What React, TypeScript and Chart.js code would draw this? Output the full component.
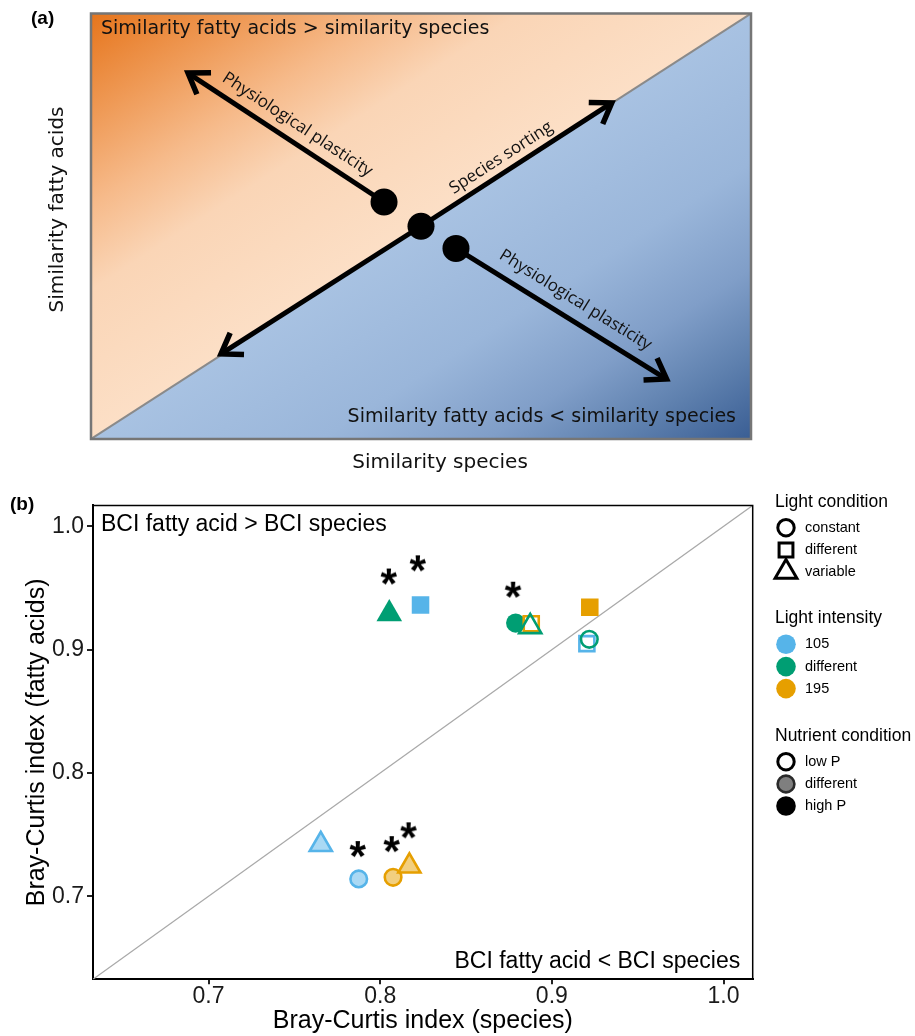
import React, { useEffect, useRef } from "react";
import { Chart, registerables } from "chart.js";
import { drawPoint } from "chart.js/helpers";
Chart.register(...registerables);

// ---------------- Panel (a): conceptual diagram, unit-square coordinates ----------------
const conceptDotX = [0.444, 0.5, 0.553];
const conceptDotY = [0.557, 0.5, 0.448];
const arrowFromX = [0.444, 0.5, 0.5, 0.553];
const arrowFromY = [0.557, 0.5, 0.5, 0.448];
const arrowToX = [0.147, 0.789, 0.197, 0.872];
const arrowToY = [0.86, 0.79, 0.2, 0.141];
const arrowLabels = ["Physiological plasticity", "Species sorting", "", "Physiological plasticity"];
const conceptDiagonal = [0, 1];

// ---------------- Panel (b): Bray-Curtis indices ----------------
const speciesBCI = [0.8053, 0.8235, 0.8789, 0.888, 0.8874, 0.9221, 0.9204, 0.9218, 0.7654, 0.7875, 0.8075, 0.817];
const fattyAcidBCI = [0.929, 0.9363, 0.9216, 0.921, 0.9186, 0.9344, 0.9049, 0.9084, 0.7419, 0.7141, 0.7154, 0.7245];
const lightCondition = ["variable", "different", "constant", "different", "variable", "different", "different", "constant", "variable", "constant", "constant", "variable"];
const lightIntensity = ["different", "105", "different", "195", "different", "195", "105", "different", "105", "105", "195", "195"];
const nutrientCondition = ["high P", "high P", "high P", "low P", "low P", "high P", "low P", "low P", "different", "different", "different", "different"];
const significantX = [0.8051, 0.822, 0.8775, 0.787, 0.8068, 0.8166];
const significantY = [0.9593, 0.97, 0.9486, 0.7383, 0.7423, 0.7535];
const xTicks = [0.7, 0.8, 0.9, 1.0];
const yTicks = [0.7, 0.8, 0.9, 1.0];
const axisRange = [0.6327, 1.017];
const legendLightCondition = ["constant", "different", "variable"];
const legendLightIntensity = ["105", "different", "195"];
const legendNutrient = ["low P", "different", "high P"];

const intensityColor: Record<string, string> = { "105": "#56B4E9", different: "#009E73", "195": "#E69F00" };
const shapeStyle: Record<string, string> = { constant: "circle", different: "rect", variable: "triangle" };

function rgba(hex: string, a: number) {
  const n = parseInt(hex.slice(1), 16);
  return `rgba(${(n >> 16) & 255},${(n >> 8) & 255},${n & 255},${a})`;
}

const SANS = '"Liberation Sans", Arial, sans-serif';
const DEJAVU = '"DejaVu Sans", sans-serif';
const OPEN = '"Open Sans", sans-serif';

function makeAsterisk(): HTMLCanvasElement {
  const c = document.createElement("canvas");
  c.width = 28;
  c.height = 28;
  const g = c.getContext("2d")!;
  g.font = `bold 40px ${SANS}`;
  let m = g.measureText("*");
  const w0 = m.actualBoundingBoxLeft + m.actualBoundingBoxRight;
  const size = w0 > 0 ? (40 * 17) / w0 : 46;
  g.font = `bold ${size}px ${SANS}`;
  m = g.measureText("*");
  g.fillStyle = "#000";
  g.textAlign = "left";
  g.textBaseline = "alphabetic";
  const x = 14 - (m.actualBoundingBoxRight - m.actualBoundingBoxLeft) / 2;
  const y = 14 + (m.actualBoundingBoxAscent - m.actualBoundingBoxDescent) / 2;
  g.fillText("*", x, y);
  return c;
}

function ConceptPanel() {
  const ref = useRef<HTMLCanvasElement>(null);
  useEffect(() => {
    if (!ref.current) return;
    const arrowDatasets = arrowFromX.map((_, i) => ({
      type: "line" as const,
      data: [
        { x: arrowFromX[i], y: arrowFromY[i] },
        { x: arrowToX[i], y: arrowToY[i] },
      ],
      borderColor: "#000",
      borderWidth: 5,
      borderCapStyle: "butt" as const,
      pointRadius: 0,
      showLine: true,
      order: 1,
    }));
    const plugin = {
      id: "concept",
      beforeDatasetsDraw(chart: any) {
        const { ctx, chartArea } = chart;
        const { left, top, right, bottom } = chartArea;
        const ux = right - left;
        const uy = top - bottom;
        const len = Math.hypot(ux, uy);
        const u = [ux / len, uy / len];
        const foot = (cx: number, cy: number) => {
          const t = (cx - left) * u[0] + (cy - bottom) * u[1];
          return [left + t * u[0], bottom + t * u[1]];
        };
        ctx.save();
        ctx.beginPath();
        ctx.moveTo(left, bottom + 1);
        ctx.lineTo(left, top);
        ctx.lineTo(right + 1, top);
        ctx.closePath();
        const f1 = foot(left, top);
        const g1 = ctx.createLinearGradient(f1[0], f1[1], left, top);
        g1.addColorStop(0, "rgb(252,223,198)");
        g1.addColorStop(0.35, "rgb(250,213,182)");
        g1.addColorStop(0.55, "rgb(246,186,138)");
        g1.addColorStop(0.75, "rgb(239,155,88)");
        g1.addColorStop(1, "rgb(230,117,28)");
        ctx.fillStyle = g1;
        ctx.fill();
        ctx.beginPath();
        ctx.moveTo(left, bottom);
        ctx.lineTo(right, top);
        ctx.lineTo(right, bottom);
        ctx.closePath();
        const f2 = foot(right, bottom);
        const g2 = ctx.createLinearGradient(f2[0], f2[1], right, bottom);
        g2.addColorStop(0, "rgb(168,194,226)");
        g2.addColorStop(0.35, "rgb(154,182,218)");
        g2.addColorStop(0.6, "rgb(128,158,200)");
        g2.addColorStop(0.8, "rgb(94,128,174)");
        g2.addColorStop(1, "rgb(58,94,148)");
        ctx.fillStyle = g2;
        ctx.fill();
        ctx.restore();
      },
      afterDatasetsDraw(chart: any) {
        const { ctx, chartArea } = chart;
        ctx.save();
        arrowFromX.forEach((_, i) => {
          const meta = chart.getDatasetMeta(i + 2);
          const p0 = meta.data[0];
          const p1 = meta.data[1];
          const dx = p1.x - p0.x;
          const dy = p1.y - p0.y;
          const L = Math.hypot(dx, dy);
          const d = [dx / L, dy / L];
          const back = Math.atan2(-d[1], -d[0]);
          const a = (34 * Math.PI) / 180;
          const arm = 23;
          ctx.strokeStyle = "#000";
          ctx.lineWidth = 5.5;
          ctx.lineJoin = "miter";
          ctx.lineCap = "butt";
          ctx.beginPath();
          ctx.moveTo(p1.x + arm * Math.cos(back + a), p1.y + arm * Math.sin(back + a));
          ctx.lineTo(p1.x, p1.y);
          ctx.lineTo(p1.x + arm * Math.cos(back - a), p1.y + arm * Math.sin(back - a));
          ctx.stroke();
          const label = arrowLabels[i];
          if (label) {
            const frac = [0.49, 0.46, 0.5, 0.52][i];
            const off = [17, 14, 0, 19][i];
            let n = [d[1], -d[0]];
            if (n[1] > 0) n = [-n[0], -n[1]];
            const cx = p0.x + dx * frac + n[0] * off;
            const cy = p0.y + dy * frac + n[1] * off;
            let ang = Math.atan2(dy, dx);
            if (ang > Math.PI / 2) ang -= Math.PI;
            if (ang < -Math.PI / 2) ang += Math.PI;
            ctx.save();
            ctx.translate(cx, cy);
            ctx.rotate(ang);
            ctx.font = `17px ${OPEN}`;
            ctx.fillStyle = "#111";
            ctx.textAlign = "center";
            ctx.textBaseline = "middle";
            ctx.fillText(label, 0, 0);
            ctx.restore();
          }
        });
        ctx.strokeStyle = "#767676";
        ctx.lineWidth = 2.5;
        ctx.strokeRect(chartArea.left, chartArea.top, chartArea.right - chartArea.left, chartArea.bottom - chartArea.top);
        ctx.restore();
      },
      afterDraw(chart: any) {
        const { ctx, chartArea } = chart;
        ctx.save();
        ctx.fillStyle = "#111";
        ctx.font = `19px ${DEJAVU}`;
        ctx.textBaseline = "middle";
        ctx.textAlign = "left";
        ctx.fillText("Similarity fatty acids > similarity species", chartArea.left + 10, chartArea.top + 16);
        ctx.textAlign = "right";
        ctx.fillText("Similarity fatty acids < similarity species", chartArea.right - 15, chartArea.bottom - 22);
        ctx.font = `20px ${DEJAVU}`;
        ctx.textAlign = "center";
        ctx.fillText("Similarity species", (chartArea.left + chartArea.right) / 2 + 19, chartArea.bottom + 24);
        ctx.save();
        ctx.translate(58, 209.5);
        ctx.rotate(-Math.PI / 2);
        ctx.fillText("Similarity fatty acids", 0, 0);
        ctx.restore();
        ctx.fillStyle = "#000";
        ctx.font = `bold 19px ${SANS}`;
        ctx.textAlign = "left";
        ctx.fillText("(a)", 31, 18.5);
        ctx.restore();
      },
    };
    const chart = new Chart(ref.current, {
      type: "scatter",
      data: {
        datasets: [
          {
            data: conceptDotX.map((x, i) => ({ x, y: conceptDotY[i] })),
            pointRadius: 13.5,
            pointBackgroundColor: "#000",
            pointBorderWidth: 0,
            order: 0,
          },
          {
            type: "line",
            data: conceptDiagonal.map((v) => ({ x: v, y: v })),
            borderColor: "#8a8a8a",
            borderWidth: 2,
            pointRadius: 0,
            showLine: true,
            order: 2,
          },
          ...arrowDatasets,
        ] as any,
      },
      options: {
        animation: false,
        responsive: false,
        events: [],
        layout: { padding: { left: 91, right: 164, top: 10, bottom: 51 } },
        scales: {
          x: { type: "linear", min: 0, max: 1, display: false },
          y: { type: "linear", min: 0, max: 1, display: false },
        },
        plugins: { legend: { display: false }, tooltip: { enabled: false } },
      },
      plugins: [plugin],
    });
    return () => chart.destroy();
  }, []);
  return <canvas ref={ref} width={915} height={490} style={{ display: "block", width: 915, height: 490 }} />;
}

function BciPanel() {
  const ref = useRef<HTMLCanvasElement>(null);
  useEffect(() => {
    if (!ref.current) return;
    const asterisk = makeAsterisk();
    const styles = lightCondition.map((c) => shapeStyle[c]);
    const colors = lightIntensity.map((c) => intensityColor[c]);
    const radii = styles.map((s, i) => {
      const filled = nutrientCondition[i] === "high P";
      if (s === "circle") return filled ? 9.6 : 8.3;
      if (s === "rect") return filled ? 12.4 : 10.6;
      return filled ? 14.8 : 12.8;
    });
    const fills = colors.map((c, i) =>
      nutrientCondition[i] === "high P" ? c : nutrientCondition[i] === "low P" ? "rgba(255,255,255,0)" : rgba(c, 0.5)
    );
    const borderWidths = nutrientCondition.map((n) => (n === "high P" ? 0 : 2.6));

    const plugin = {
      id: "bci",
      afterDraw(chart: any) {
        const { ctx, chartArea } = chart;
        ctx.save();
        ctx.strokeStyle = "#000";
        ctx.lineWidth = 1.5;
        ctx.beginPath();
        ctx.moveTo(chartArea.left, chartArea.top);
        ctx.lineTo(chartArea.right, chartArea.top);
        ctx.lineTo(chartArea.right, chartArea.bottom);
        ctx.stroke();
        ctx.fillStyle = "#000";
        ctx.font = `23px ${SANS}`;
        ctx.textBaseline = "alphabetic";
        ctx.textAlign = "left";
        ctx.fillText("BCI fatty acid > BCI species", chartArea.left + 8, chartArea.top + 25.6);
        ctx.textAlign = "right";
        ctx.fillText("BCI fatty acid < BCI species", chartArea.right - 12.5, chartArea.bottom - 11.6);
        ctx.font = `bold 19px ${SANS}`;
        ctx.textAlign = "left";
        ctx.textBaseline = "middle";
        ctx.fillText("(b)", 10, 15);
        const lx = 775;
        const mx = 786;
        const tx = 805;
        const groups = [
          { title: "Light condition", y: 11.7, labels: legendLightCondition },
          { title: "Light intensity", y: 128.3, labels: legendLightIntensity },
          { title: "Nutrient condition", y: 245.7, labels: legendNutrient },
        ];
        const itemY = [26, 48.3, 70.3];
        groups.forEach((g, gi) => {
          ctx.font = `17.5px ${SANS}`;
          ctx.fillStyle = "#000";
          ctx.textAlign = "left";
          ctx.textBaseline = "middle";
          ctx.fillText(g.title, lx, g.y);
          g.labels.forEach((lab, k) => {
            const y = g.y + itemY[k];
            let style = "circle";
            let radius = 9.8;
            let fill = "#000";
            let stroke = "#000";
            let bw = 0;
            if (gi === 0) {
              style = shapeStyle[lab];
              radius = style === "circle" ? 8.2 : style === "rect" ? 9.8 : 12.6;
              fill = "rgba(255,255,255,0)";
              bw = 3;
            } else if (gi === 1) {
              fill = intensityColor[lab];
              stroke = fill;
            } else {
              if (lab === "low P") {
                radius = 8.2;
                fill = "rgba(255,255,255,0)";
                bw = 3;
              } else if (lab === "different") {
                radius = 8.4;
                fill = "#7f7f7f";
                stroke = "#2a2a2a";
                bw = 2.6;
              }
            }
            ctx.fillStyle = fill;
            ctx.strokeStyle = stroke;
            ctx.lineWidth = bw;
            drawPoint(ctx, { pointStyle: style as any, rotation: 0, radius, borderWidth: bw }, mx, y);
            ctx.fillStyle = "#000";
            ctx.font = `14.5px ${SANS}`;
            ctx.fillText(lab, tx, y);
          });
        });
        ctx.restore();
      },
    };

    const chart = new Chart(ref.current, {
      type: "scatter",
      data: {
        datasets: [
          {
            data: speciesBCI.map((x, i) => ({ x, y: fattyAcidBCI[i] })),
            pointStyle: styles as any,
            pointRadius: radii,
            pointBackgroundColor: fills,
            pointBorderColor: colors,
            pointBorderWidth: borderWidths,
            order: 0,
          },
          {
            data: significantX.map((x, i) => ({ x, y: significantY[i] })),
            pointStyle: asterisk as any,
            pointRadius: 10,
            order: 1,
          },
          {
            type: "line",
            data: axisRange.map((v) => ({ x: v, y: v })),
            borderColor: "#a9a9a9",
            borderWidth: 1.2,
            pointRadius: 0,
            showLine: true,
            order: 2,
          },
        ] as any,
      },
      options: {
        animation: false,
        responsive: false,
        events: [],
        layout: { padding: { left: 0, right: 162.3, top: 11.7, bottom: 0 } },
        scales: {
          x: {
            type: "linear",
            min: axisRange[0],
            max: axisRange[1],
            afterBuildTicks: (s: any) => {
              s.ticks = xTicks.map((v) => ({ value: v }));
            },
            afterFit: (s: any) => {
              s.height = 56.7;
            },
            grid: { display: true, drawOnChartArea: false, drawTicks: true, tickLength: 5, color: "#222", lineWidth: 2 },
            border: { display: true, color: "#000", width: 2 },
            ticks: {
              color: "#1a1a1a",
              padding: 1,
              font: { family: SANS, size: 23, lineHeight: 1 },
              callback: (v: any) => Number(v).toFixed(1),
            },
            title: {
              display: true,
              text: "Bray-Curtis index (species)",
              color: "#000",
              font: { family: SANS, size: 25, lineHeight: 1.2 },
              padding: { top: 0, bottom: 0 },
            },
          },
          y: {
            type: "linear",
            min: axisRange[0],
            max: axisRange[1],
            afterBuildTicks: (s: any) => {
              s.ticks = yTicks.map((v) => ({ value: v }));
            },
            afterFit: (s: any) => {
              s.width = 93;
            },
            grid: { display: true, drawOnChartArea: false, drawTicks: true, tickLength: 6, color: "#222", lineWidth: 2 },
            border: { display: true, color: "#000", width: 2 },
            ticks: {
              color: "#1a1a1a",
              padding: 3,
              font: { family: SANS, size: 23, lineHeight: 1 },
              callback: (v: any) => Number(v).toFixed(1),
            },
            title: {
              display: true,
              text: "Bray-Curtis index (fatty acids)",
              color: "#000",
              font: { family: SANS, size: 25, lineHeight: 1.2 },
              padding: { top: 22, bottom: 0 },
            },
          },
        },
        plugins: { legend: { display: false }, tooltip: { enabled: false } },
      },
      plugins: [plugin],
    });
    return () => chart.destroy();
  }, []);
  return <canvas ref={ref} width={915} height={546} style={{ display: "block", width: 915, height: 546 }} />;
}

export default function App() {
  return (
    <div style={{ position: "absolute", left: 0, top: 0, width: 915, height: 1036, background: "#fff", overflow: "hidden" }}>
      <ConceptPanel />
      <BciPanel />
    </div>
  );
}
